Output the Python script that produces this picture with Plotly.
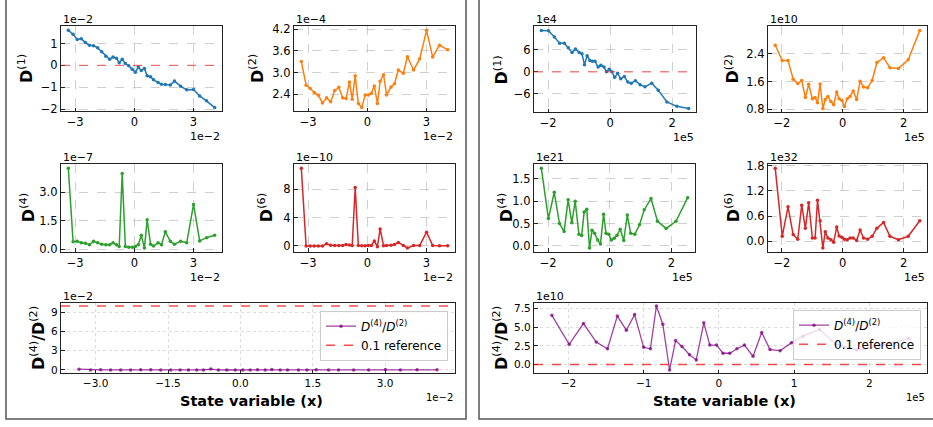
import plotly.graph_objects as go

# ---------------- data (displayed units: values divided by the offset factor) -------------
# Left panel: x in units of 1e-2
x_left = [-3.346, -3.104, -2.896, -2.689, -2.481, -2.274, -2.066, -1.859, -1.651, -1.444,
          -1.250, -1.077, -0.905, -0.766, -0.614, -0.455, -0.282, -0.109, 0.050, 0.202,
          0.354, 0.513, 0.651, 0.824, 0.976, 1.204, 1.378, 1.571, 1.827, 2.034,
          2.346, 2.657, 3.003, 3.314, 3.660, 4.075]
d1_left = [1.60, 1.42, 1.18, 1.22, 1.04, 0.92, 0.90, 0.80, 0.62, 0.42,
           0.28, 0.38, 0.32, 0.12, 0.28, 0.08, -0.02, -0.18, -0.32, -0.08,
           -0.24, -0.14, -0.48, -0.52, -0.66, -0.78, -0.86, -0.88, -0.90, -0.72,
           -0.95, -1.12, -1.10, -1.40, -1.62, -1.93]            # 1e-2
d2_left = [3.31, 2.65, 2.56, 2.45, 2.37, 2.16, 2.30, 2.19, 2.50, 2.59,
           2.30, 2.28, 2.74, 2.26, 2.91, 2.14, 2.03, 2.38, 2.38, 2.43,
           2.63, 2.14, 2.76, 2.94, 2.38, 2.60, 2.69, 3.07, 2.98, 3.44,
           3.07, 3.38, 4.17, 3.43, 3.76, 3.63]                    # 1e-4
d4_left = [4.28, 0.38, 0.41, 0.33, 0.30, 0.23, 0.41, 0.33, 0.25, 0.23,
           0.22, 0.33, 0.23, 0.14, 4.00, 0.14, 0.10, 0.09, 0.14, 0.23,
           0.73, 0.05, 1.55, 0.25, 0.16, 0.33, 0.23, 0.91, 0.41, 0.25,
           0.41, 0.33, 2.36, 0.43, 0.60, 0.73]                    # 1e-7
d6_left = [11.0, 0.0, 0.0, 0.0, 0.0, 0.0, 0.3, 0.1, 0.05, 0.05,
           0.05, 0.2, 0.15, 0.05, 8.25, 0.05, 0.02, 0.02, 0.05, 0.05,
           0.7, -0.1, 2.4, 0.02, 0.05, 0.1, 0.2, 0.5, 0.05, -0.3,
           0.05, 0.05, 1.95, 0.05, 0.02, 0.02]                    # 1e-10
ratio_left = [0.13, 0.01, 0.02, 0.01, 0.01, 0.01, 0.02, 0.02, 0.01, 0.01,
              0.01, 0.01, 0.01, 0.01, 0.14, 0.01, 0.00, 0.00, 0.01, 0.01,
              0.03, 0.00, 0.06, 0.01, 0.01, 0.01, 0.01, 0.03, 0.01, 0.01,
              0.01, 0.01, 0.06, 0.01, 0.02, 0.02]                 # 1e-2

# Right panel: x in units of 1e5
x_right = [-2.22, -1.99, -1.80, -1.63, -1.48, -1.35, -1.23, -1.12, -1.00, -0.91,
           -0.83, -0.745, -0.655, -0.575, -0.49, -0.39, -0.30, -0.20, -0.12, -0.03,
           0.055, 0.145, 0.24, 0.34, 0.455, 0.57, 0.68, 0.815, 0.965, 1.12,
           1.34, 1.55, 1.83, 2.15, 2.53]
d1_right = [11.3, 11.2, 9.5, 7.8, 7.8, 6.6, 5.3, 6.2, 5.3, 4.9,
            1.9, 4.4, 3.1, 2.9, 2.9, 1.3, 1.8, 1.3, 0.0, 0.7,
            0.0, -1.5, -0.4, -1.9, -1.3, -2.8, -3.1, -2.4, -3.5, -4.1,
            -3.1, -5.0, -8.2, -9.4, -10.0]                        # 1e4
d2_right = [2.65, 2.21, 2.21, 1.67, 1.54, 1.63, 1.14, 1.52, 1.10, 1.14,
            0.99, 1.53, 0.82, 1.08, 1.17, 1.02, 0.93, 1.30, 1.10, 1.05,
            0.88, 1.10, 1.17, 1.33, 1.08, 1.61, 1.44, 1.42, 1.63, 2.15,
            2.29, 2.00, 1.98, 2.23, 3.08]                         # 1e10
d4_right = [1.74, 0.61, 1.20, 0.50, 0.32, 1.03, 0.52, 1.00, 0.26, 0.23,
            0.76, 0.82, -0.05, 0.35, 0.28, 0.13, 0.04, 0.71, 0.28, 0.26,
            0.13, 0.17, 0.24, 0.37, 0.12, 0.69, 0.28, 0.26, 0.47, 0.81,
            1.06, 0.55, 0.39, 0.55, 1.08]                         # 1e21
d6_right = [1.74, 0.12, 0.82, 0.16, 0.05, 0.86, 0.31, 0.92, 0.08, 0.08,
            0.98, 0.49, -0.16, 0.23, 0.08, 0.04, -0.02, 0.34, 0.13, 0.10,
            0.05, 0.04, 0.08, 0.08, 0.02, 0.27, 0.08, 0.05, 0.12, 0.31,
            0.45, 0.12, 0.04, 0.12, 0.49]                         # 1e32
ratio_right = [6.6, 2.7, 5.5, 3.0, 2.1, 6.5, 4.6, 6.7, 2.3, 2.1,
               7.85, 5.4, -0.75, 3.2, 2.4, 1.3, 0.6, 5.6, 2.6, 2.6,
               1.5, 1.5, 2.1, 2.6, 1.1, 4.3, 2.0, 1.85, 2.9, 3.8,
               4.7, 2.75, 1.94, 2.5, 3.5]                         # 1e10

ref_value = 0.1
ratio_scale_left = 1e-2
ratio_scale_right = 1e10

# tick labels
xt_left_small = [-3, 0, 3]
xt_left_ratio = [-3.0, -1.5, 0.0, 1.5, 3.0]
xt_right_small = [-2, 0, 2]
xt_right_ratio = [-2, -1, 0, 1, 2]
yt_d1_left = [-2, -1, 0, 1]
yt_d2_left = [2.4, 3.0, 3.6, 4.2]
yt_d4_left = [0.0, 1.5, 3.0]
yt_d6_left = [0, 4, 8]
yt_ratio_left = [0, 3, 6, 9]
yt_d1_right = [-6, 0, 6]
yt_d2_right = [0.8, 1.6, 2.4]
yt_d4_right = [0.0, 0.5, 1.0, 1.5]
yt_d6_right = [0.0, 0.6, 1.2, 1.8]
yt_ratio_right = [0.0, 2.5, 5.0, 7.5]

# ---------------- helpers ----------------
W, H = 933, 427
FONT = "DejaVu Sans"


def xd(a, b):
    return [a / W, b / W]


def yd(top, bottom):
    return [1 - bottom / H, 1 - top / H]


def padded(vals, extra=()):
    v = list(vals) + list(extra)
    lo, hi = min(v), max(v)
    m = 0.05 * (hi - lo)
    return [lo - m, hi + m]


def fmt(v, nd):
    s = f"{abs(v):.{nd}f}"
    return ("\u2212" if v < 0 else "") + s


C_BLUE, C_ORANGE, C_GREEN, C_RED = "#1f77b4", "#ff7f0e", "#2ca02c", "#d62728"
C_PURPLE = "rgba(128,0,128,0.75)"

ref_left = ref_value / ratio_scale_left
ref_right = ref_value / ratio_scale_right

panels = [
    dict(x=x_left, y=d1_left, c=C_BLUE, xp=(61, 222), yp=(22, 109), xt=xt_left_small, xnd=0,
         yt=yt_d1_left, ynd=0, lab="<b>D</b><sup>(1)</sup>", xo="1e\u22122", yo="1e\u22122", lx=26, zero=True),
    dict(x=x_left, y=d2_left, c=C_ORANGE, xp=(294, 455), yp=(22, 109), xt=xt_left_small, xnd=0,
         yt=yt_d2_left, ynd=1, lab="<b>D</b><sup>(2)</sup>", xo="1e\u22122", yo="1e\u22124", lx=257),
    dict(x=x_left, y=d4_left, c=C_GREEN, xp=(61, 222), yp=(163, 253), xt=xt_left_small, xnd=0,
         yt=yt_d4_left, ynd=1, lab="<b>D</b><sup>(4)</sup>", xo="1e\u22122", yo="1e\u22127", lx=27),
    dict(x=x_left, y=d6_left, c=C_RED, xp=(294, 455), yp=(163, 253), xt=xt_left_small, xnd=0,
         yt=yt_d6_left, ynd=0, lab="<b>D</b><sup>(6)</sup>", xo="1e\u22122", yo="1e\u221210", lx=265),
    dict(x=x_left, y=ratio_left, c=C_PURPLE, xp=(61, 455), yp=(305, 377), xt=xt_left_ratio, xnd=1,
         yt=yt_ratio_left, ynd=0, lab="<b>D</b><sup>(4)</sup><b>/D</b><sup>(2)</sup>",
         xo="1e\u22122", yo="1e\u22122", lx=37, ratio=True, ref=ref_left, legend="legend"),
    dict(x=x_right, y=d1_right, c=C_BLUE, xp=(534, 696), yp=(22, 110), xt=xt_right_small, xnd=0,
         yt=yt_d1_right, ynd=0, lab="<b>D</b><sup>(1)</sup>", xo="1e5", yo="1e4", lx=501, zero=True),
    dict(x=x_right, y=d2_right, c=C_ORANGE, xp=(768, 927), yp=(22, 110), xt=xt_right_small, xnd=0,
         yt=yt_d2_right, ynd=1, lab="<b>D</b><sup>(2)</sup>", xo="1e5", yo="1e10", lx=732),
    dict(x=x_right, y=d4_right, c=C_GREEN, xp=(534, 695), yp=(163, 253), xt=xt_right_small, xnd=0,
         yt=yt_d4_right, ynd=1, lab="<b>D</b><sup>(4)</sup>", xo="1e5", yo="1e21", lx=505),
    dict(x=x_right, y=d6_right, c=C_RED, xp=(768, 927), yp=(163, 253), xt=xt_right_small, xnd=0,
         yt=yt_d6_right, ynd=1, lab="<b>D</b><sup>(6)</sup>", xo="1e5", yo="1e32", lx=732),
    dict(x=x_right, y=ratio_right, c=C_PURPLE, xp=(534, 927), yp=(305, 377), xt=xt_right_ratio, xnd=0,
         yt=yt_ratio_right, ynd=1, lab="<b>D</b><sup>(4)</sup><b>/D</b><sup>(2)</sup>",
         xo="1e5", yo="1e10", lx=500, ratio=True, ref=ref_right, legend="legend2"),
]

fig = go.Figure()
layout = dict(width=W, height=H, margin=dict(l=0, r=0, t=0, b=0),
              paper_bgcolor="white", plot_bgcolor="white",
              font=dict(family=FONT, color="black"), showlegend=True)
annotations = []
shapes = []

for i, p in enumerate(panels, start=1):
    sfx = "" if i == 1 else str(i)
    xa, ya = f"x{sfx}", f"y{sfx}"
    is_ratio = p.get("ratio", False)
    extra = [p["ref"]] if is_ratio else []
    xr = padded(p["x"])
    yr = padded(p["y"], extra)
    tick_fs = 10.5 if is_ratio else 11.5
    grid = dict(showgrid=True, gridcolor="rgba(176,176,176,0.45)" if is_ratio else "rgba(176,176,176,0.6)",
                gridwidth=0.8, griddash="dot" if is_ratio else "dash")
    common = dict(showline=True, mirror=True, linecolor="#222", linewidth=1.2,
                  ticks="inside", ticklen=3.5, tickwidth=1, tickcolor="#222",
                  zeroline=False, tickfont=dict(size=tick_fs, family=FONT, color="black"), **grid)
    layout[f"xaxis{sfx}"] = dict(domain=xd(*p["xp"]), anchor=ya, range=xr,
                                 tickvals=p["xt"], ticktext=[fmt(v, p["xnd"]) for v in p["xt"]], **common)
    layout[f"yaxis{sfx}"] = dict(domain=yd(*p["yp"]), anchor=xa, range=yr,
                                 tickvals=p["yt"], ticktext=[fmt(v, p["ynd"]) for v in p["yt"]], **common)

    if is_ratio:
        fig.add_trace(go.Scatter(x=p["x"], y=p["y"], mode="lines+markers", xaxis=xa, yaxis=ya,
                                 line=dict(color=p["c"], width=1.3), marker=dict(size=3.5, color=p["c"]),
                                 name="<i>D</i><sup>(4)</sup>/<i>D</i><sup>(2)</sup>",
                                 legend=p["legend"], showlegend=True))
        fig.add_trace(go.Scatter(x=[None], y=[None], mode="lines", xaxis=xa, yaxis=ya,
                                 line=dict(color="rgba(255,0,0,0.7)", width=1.5, dash="dash"),
                                 name="0.1 reference", legend=p["legend"], showlegend=True))
        shapes.append(dict(type="line", xref=f"{xa} domain", yref=ya, x0=0, x1=1,
                           y0=p["ref"], y1=p["ref"], layer="above",
                           line=dict(color="rgba(255,0,0,0.7)", width=1.5, dash="dash")))
    else:
        fig.add_trace(go.Scatter(x=p["x"], y=p["y"], mode="lines+markers", xaxis=xa, yaxis=ya,
                                 line=dict(color=p["c"], width=1.5), marker=dict(size=3.5, color=p["c"]),
                                 showlegend=False))
        if p.get("zero"):
            shapes.append(dict(type="line", xref=f"{xa} domain", yref=ya, x0=0, x1=1, y0=0, y1=0,
                               layer="above", line=dict(color="rgba(255,40,40,0.6)", width=1.1, dash="dash")))

    yc = 1 - (p["yp"][0] + p["yp"][1]) / 2 / H
    annotations.append(dict(text=p["lab"], x=p["lx"] / W, y=yc, xref="paper", yref="paper",
                            textangle=-90, showarrow=False, xanchor="center", yanchor="middle",
                            font=dict(size=16, family=FONT, color="black")))
    annotations.append(dict(text=p["yo"], x=p["xp"][0] / W, y=1 - p["yp"][0] / H, xref="paper", yref="paper",
                            showarrow=False, xanchor="left", yanchor="bottom", yshift=-2,
                            font=dict(size=11, family=FONT, color="black")))
    annotations.append(dict(text=p["xo"], x=p["xp"][1] / W, y=1 - p["yp"][1] / H, xref="paper", yref="paper",
                            showarrow=False, xanchor="right", yanchor="top", yshift=-17,
                            font=dict(size=11 if not is_ratio else 10, family=FONT, color="black")))

for cx in (251, 724):
    annotations.append(dict(text="<b>State variable (x)</b>", x=cx / W, y=1 - 405 / H, xref="paper", yref="paper",
                            showarrow=False, xanchor="center", yanchor="middle",
                            font=dict(size=14.5, family=FONT, color="black")))

shapes.append(dict(type="rect", xref="paper", yref="paper", x0=6 / W, x1=466 / W, y0=1 - 424 / H, y1=1.05,
                   line=dict(color="#555", width=1.5), layer="below"))
shapes.append(dict(type="rect", xref="paper", yref="paper", x0=479 / W, x1=1.05, y0=1 - 424 / H, y1=1.05,
                   line=dict(color="#555", width=1.5), layer="below"))

leg_common = dict(xanchor="right", yanchor="top", bgcolor="rgba(255,255,255,0.8)",
                  bordercolor="#cccccc", borderwidth=1, font=dict(size=12, family=FONT, color="black"),
                  tracegroupgap=0, itemwidth=30)
layout["legend"] = dict(x=448 / W, y=1 - 313 / H, **leg_common)
layout["legend2"] = dict(x=921 / W, y=1 - 312 / H, **leg_common)
layout["annotations"] = annotations
layout["shapes"] = shapes

fig.update_layout(**layout)
fig.write_html("out.html")
